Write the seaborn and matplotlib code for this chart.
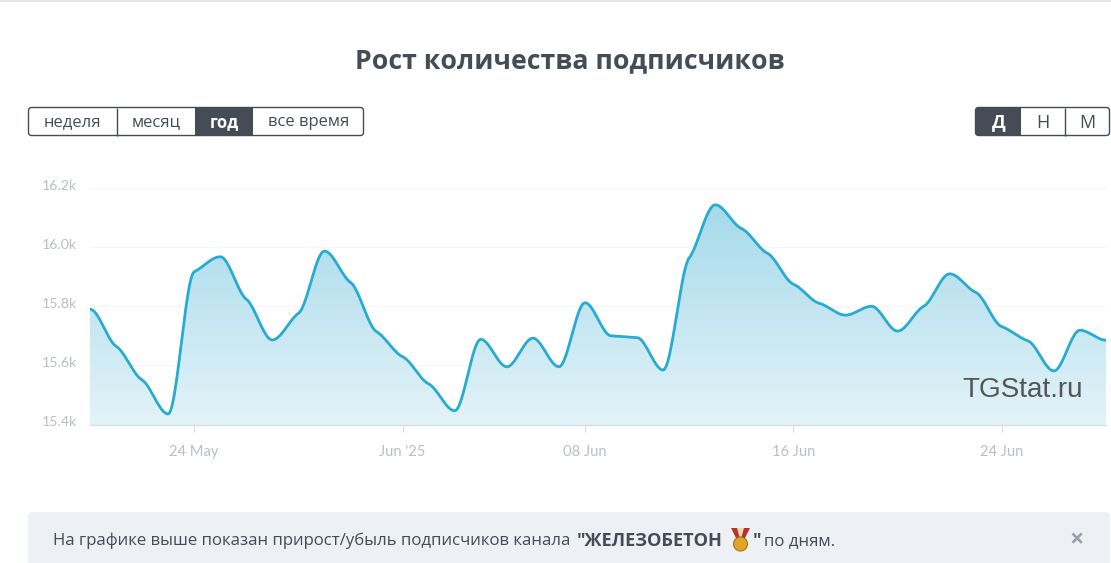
import numpy as np
import pandas as pd
import seaborn as sns
import matplotlib.pyplot as plt
from matplotlib.colors import LinearSegmentedColormap
from matplotlib.patches import FancyBboxPatch, Rectangle, Polygon, Circle
from matplotlib.transforms import ScaledTranslation

# daily subscriber counts, in thousands, May 20 .. Jun 28 2025
subscribers = [
    15.79, 15.665, 15.55, 15.435, 15.917, 15.968, 15.824, 15.686, 15.776, 15.987,
    15.881, 15.714, 15.629, 15.537, 15.446, 15.688, 15.595, 15.692, 15.595, 15.812,
    15.700, 15.694, 15.584, 15.964, 16.144, 16.064, 15.980, 15.875, 15.81, 15.77,
    15.80, 15.716, 15.80, 15.91, 15.847, 15.731, 15.683, 15.581, 15.719, 15.685,
]
start_date = "2025-05-20"
y_ticks = [15.4, 15.6, 15.8, 16.0, 16.2]
y_labels = ["15.4k", "15.6k", "15.8k", "16.0k", "16.2k"]
x_ticks = ["2025-05-24", "2025-06-01", "2025-06-08", "2025-06-16", "2025-06-24"]
x_labels = ["24 May", "Jun '25", "08 Jun", "16 Jun", "24 Jun"]
range_buttons = ["неделя", "месяц", "год", "все время"]
step_buttons = ["Д", "Н", "М"]

W, H = 1111, 563
LINE = "#27abd1"
DARK = "#454c56"
TICK = "#b9bec8"
UI_FONT = ["Open Sans", "Noto Sans", "DejaVu Sans"]


def spline_curve(values, per_seg=24):
    # piecewise hermite, flat at peaks and with soft shoulders between them
    y = np.asarray(values, dtype=float)
    d = np.diff(y)
    m = np.zeros(len(y))
    for i in range(1, len(y) - 1):
        if d[i - 1] * d[i] > 0:
            m[i] = 0.45 * 2 * d[i - 1] * d[i] / (d[i - 1] + d[i])
    s = np.linspace(0, 1, per_seg, endpoint=False)
    ts, vs = [], []
    for i in range(len(y) - 1):
        h00 = 2 * s ** 3 - 3 * s ** 2 + 1
        h10 = s ** 3 - 2 * s ** 2 + s
        h01 = -2 * s ** 3 + 3 * s ** 2
        h11 = s ** 3 - s ** 2
        ts.append(i + s)
        vs.append(h00 * y[i] + h10 * m[i] + h01 * y[i + 1] + h11 * m[i + 1])
    ts.append([len(y) - 1])
    vs.append([y[-1]])
    return np.concatenate(ts), np.concatenate(vs)


sns.set_theme(style="white")
plt.rcParams["font.family"] = ["Lato", "Noto Sans", "DejaVu Sans"]

fig = plt.figure(figsize=(W / 100, H / 100), dpi=100)
ax = fig.add_axes([90 / W, 1 - 425.3 / H, 1016 / W, 237 / H])

t, v = spline_curve(subscribers)
dates = pd.Timestamp(start_date) + pd.to_timedelta(t, unit="D")
curve = pd.DataFrame({"date": dates, "subs": v})

y_min = 15.4 - 1 / 295
sns.lineplot(data=curve, x="date", y="subs", color=LINE, linewidth=2.0, ax=ax, zorder=4)
x_num = np.asarray(ax.lines[0].get_xdata(orig=False), dtype=float)

# area under the line with the vertical fade
fill = ax.fill_between(x_num, v, y_min, color="none", linewidth=0)
fade = LinearSegmentedColormap.from_list("fade", ["#e3f3f9", "#a6daea"])
img = ax.imshow(
    np.linspace(1, 0, 256).reshape(-1, 1), cmap=fade, aspect="auto", zorder=2,
    extent=[x_num[0], x_num[-1], y_min, v.max()],
)
img.set_clip_path(fill.get_paths()[0], transform=ax.transData)

ax.set_xlim(x_num[0], x_num[-1])
ax.set_ylim(y_min, 16.2)
ax.set_xlabel("")
ax.set_ylabel("")
ax.set_yticks(y_ticks)
ax.set_yticklabels(y_labels)
ax.set_xticks(pd.to_datetime(x_ticks))
ax.set_xticklabels(x_labels)
ax.grid(axis="y", color="#f4f5f7", linewidth=0.8, zorder=0)
ax.set_axisbelow(True)
for side in ["top", "right", "left"]:
    ax.spines[side].set_visible(False)
ax.spines["bottom"].set_color("#d8dce3")
ax.spines["bottom"].set_linewidth(1.0)
ax.tick_params(axis="x", length=5, width=0.8, color="#d8dce3", labelcolor=TICK, labelsize=10.6, pad=9.5, bottom=True)
ax.tick_params(axis="y", length=0, labelcolor=TICK, labelsize=10.2, pad=9.5)
shift = ScaledTranslation(0, 2.2 / 72, fig.dpi_scale_trans)
for lab in ax.get_yticklabels():
    lab.set_transform(lab.get_transform() + shift)

# page furniture, in pixel coordinates
ui = fig.add_axes([0, 0, 1, 1], zorder=5)
ui.axis("off")
ui.patch.set_alpha(0)

ui.add_patch(Rectangle((0, 0), W, 1.5, color="#e6e6e6", linewidth=0))
ui.text(569.5, 61.5, "Рост количества подписчиков", ha="center", va="center",
        fontsize=19.2, fontweight="bold", color="#454c56", family=UI_FONT)


def button_group(x0, x1, y0, y1, edges, labels, active, size):
    box = FancyBboxPatch((x0, y0), x1 - x0, y1 - y0, boxstyle="round,pad=0,rounding_size=3",
                         facecolor="white", edgecolor=DARK, linewidth=1.0, zorder=1)
    ui.add_patch(box)
    for i, lab in enumerate(labels):
        a, b = edges[i], edges[i + 1]
        if i == active:
            r = Rectangle((a, y0), b - a, y1 - y0, facecolor=DARK, edgecolor="none", zorder=2)
            ui.add_patch(r)
            r.set_clip_path(box)
        elif i > 0 and i - 1 != active:
            ui.plot([a, a], [y0, y1], color=DARK, linewidth=1.0, zorder=2, solid_capstyle="butt")
        ui.text((a + b) / 2, (y0 + y1) / 2 + 1, lab, ha="center", va="center", fontsize=size,
                color="white" if i == active else "#454c56",
                fontweight="bold" if i == active else "normal", family=UI_FONT, zorder=3)


button_group(28.5, 363.5, 107.5, 135.5, [28.5, 116.5, 195, 253, 363.5], range_buttons, 2, 12)
button_group(975.5, 1109.5, 107.5, 135.5, [975.5, 1021, 1064.5, 1109.5], step_buttons, 0, 13)

ui.text(1082.5, 390, "TGStat.ru", ha="right", va="center", fontsize=20.1, color="#565656",
        family=["Liberation Sans"], zorder=6)

# note under the chart
ui.add_patch(FancyBboxPatch((28, 512), 1082, 70, boxstyle="round,pad=0,rounding_size=5",
                            facecolor="#edf0f5", edgecolor="none"))
note_y = 541
note_size = 12.1
ui.text(53, note_y, 'На графике выше показан прирост/убыль подписчиков канала', ha="left", va="center",
        fontsize=note_size, color="#454c56", family=UI_FONT)
ui.text(577, note_y, '"ЖЕЛЕЗОБЕТОН', ha="left", va="center", fontsize=13.1, fontweight="bold",
        color="#454c56", family=UI_FONT)
ui.text(753, note_y, '"', ha="left", va="center", fontsize=13.1, fontweight="bold",
        color="#454c56", family=UI_FONT)
ui.text(764, note_y, "по дням.", ha="left", va="center", fontsize=note_size, color="#454c56", family=UI_FONT)
ui.add_patch(Polygon([[731, 528], [750, 528], [744, 540], [737, 540]], facecolor="#b8322a", edgecolor="none"))
ui.add_patch(Polygon([[737, 528], [744, 528], [741.5, 537], [739.5, 537]], facecolor="#e8d9b0", edgecolor="none"))
ui.add_patch(Circle((740.5, 544), 7, facecolor="#e0a526", edgecolor="#a8741a", linewidth=0.8))
ui.text(1077, 541, "×", ha="center", va="center", fontsize=18, fontweight="bold", color="#9aa0aa", family=UI_FONT)
ui.set_xlim(0, W)
ui.set_ylim(H, 0)

fig.savefig("out.png", dpi=100)
